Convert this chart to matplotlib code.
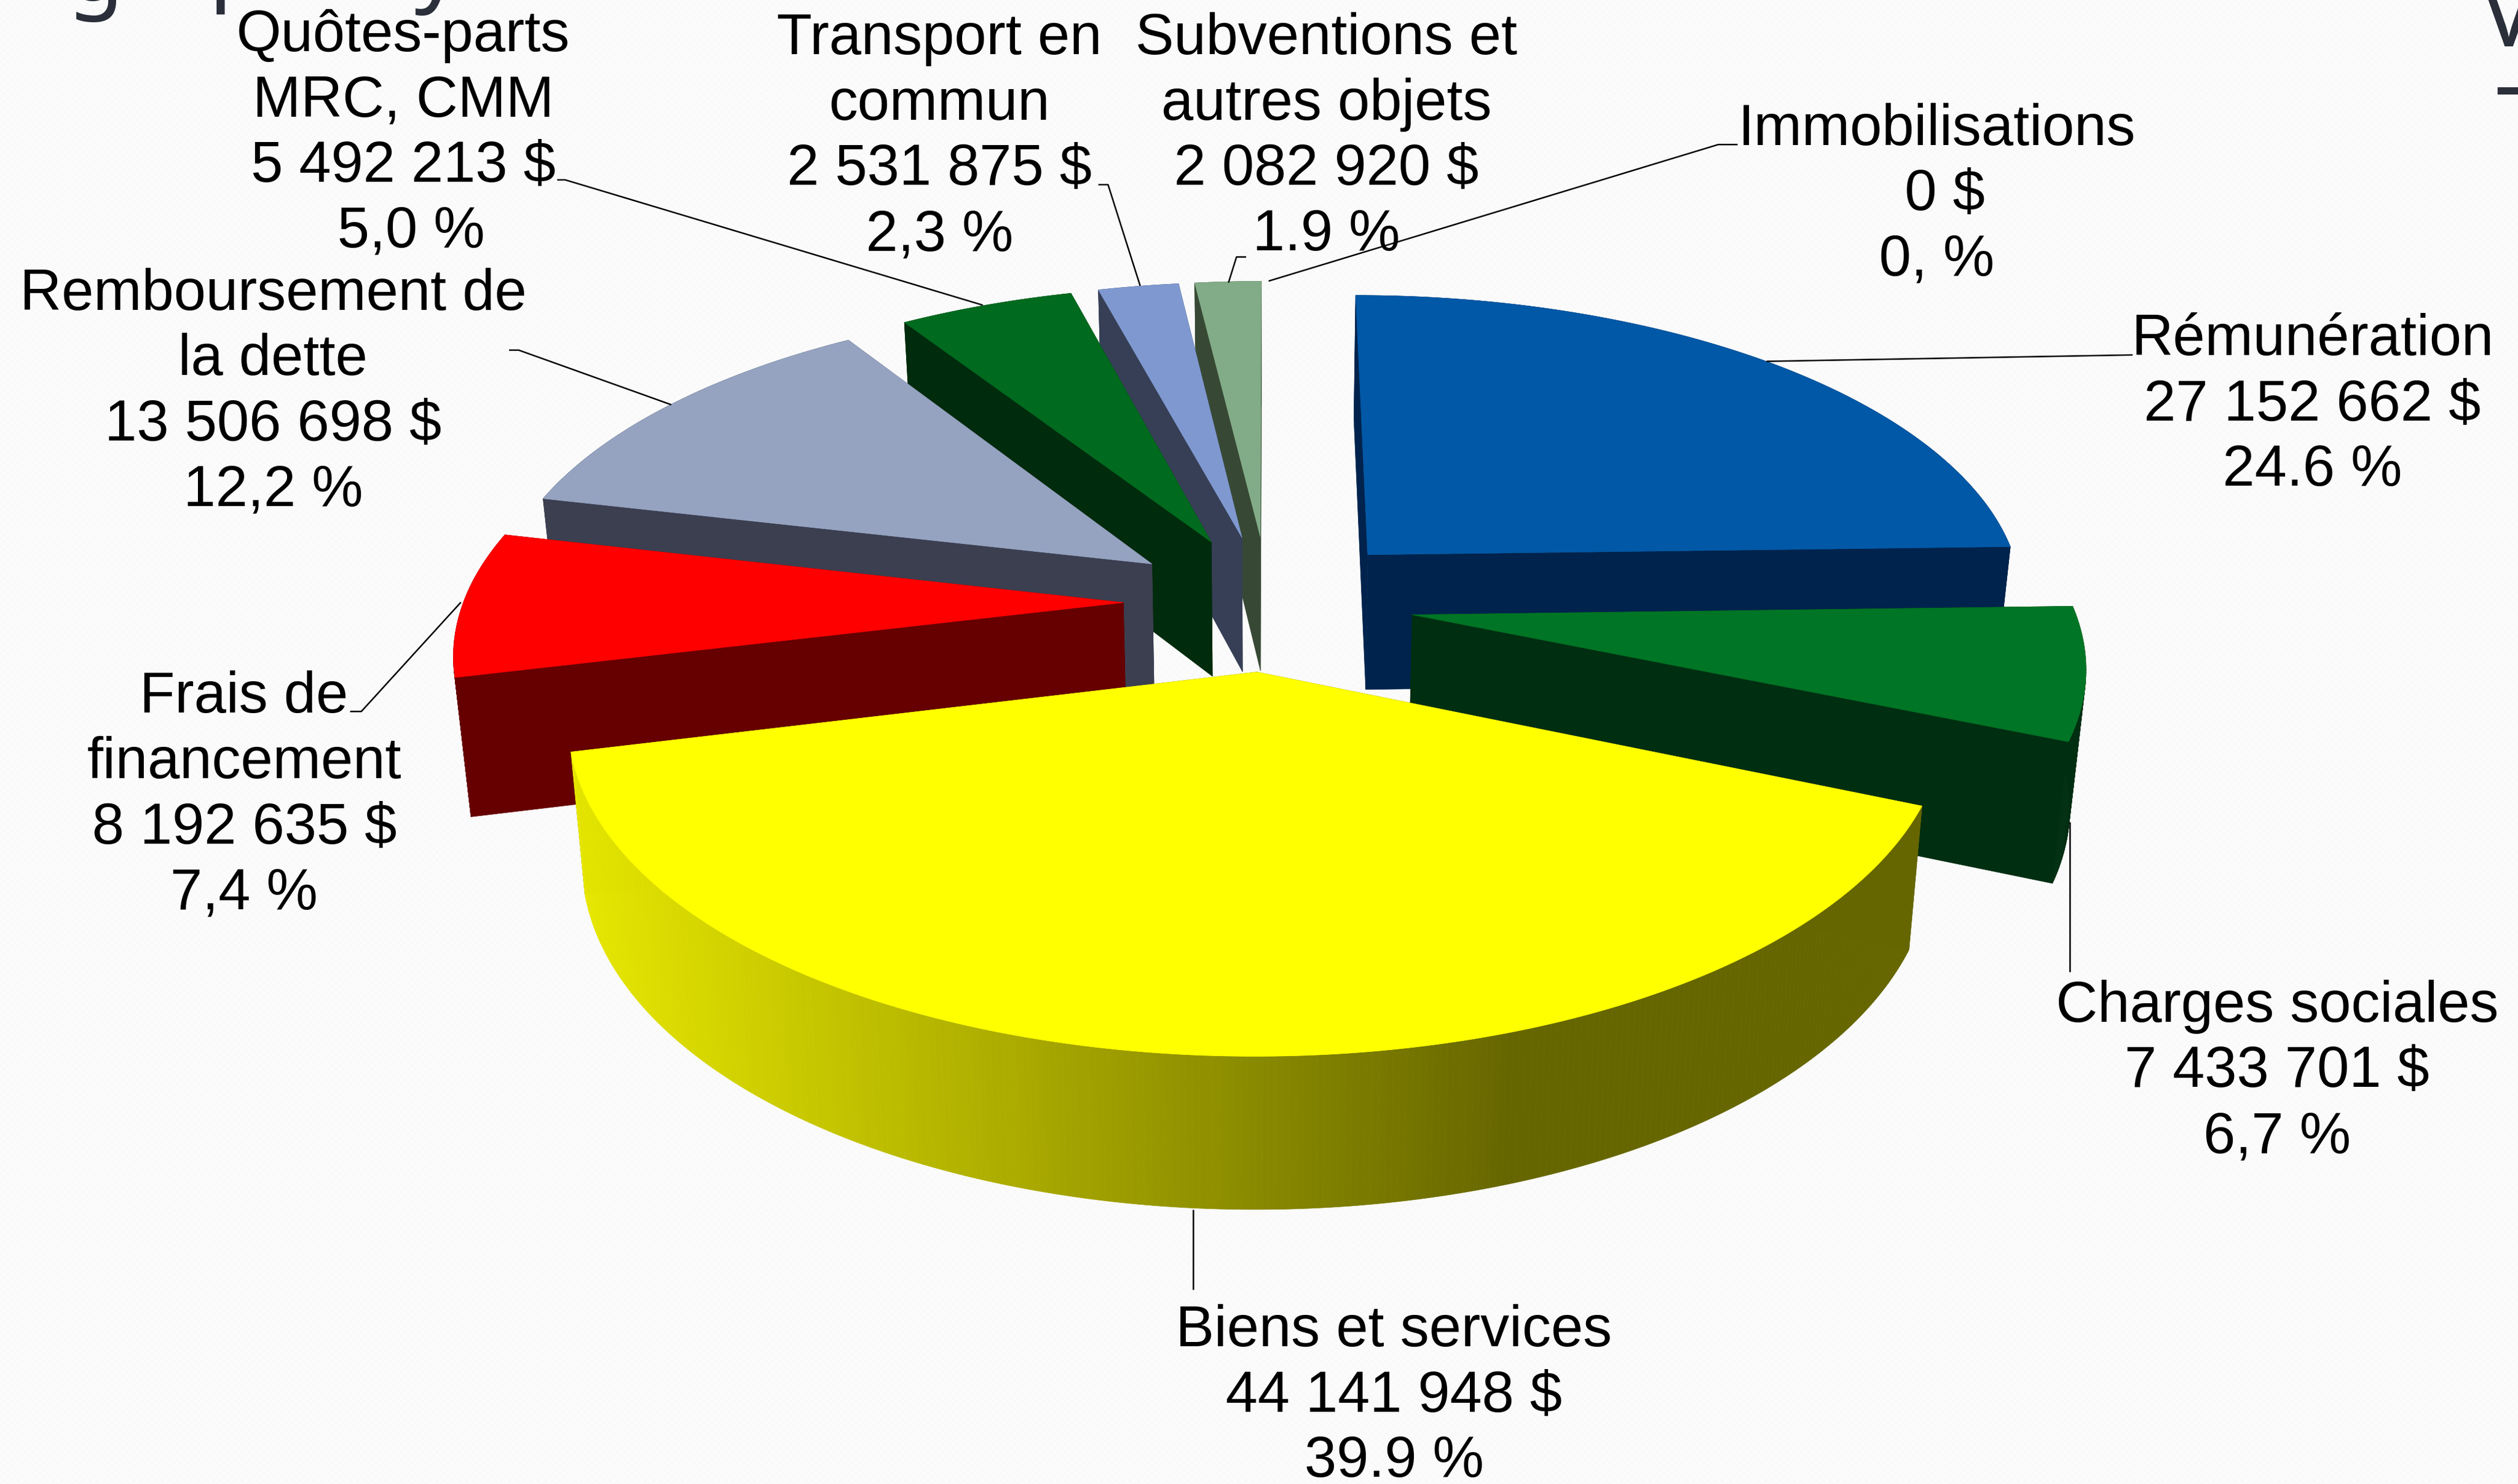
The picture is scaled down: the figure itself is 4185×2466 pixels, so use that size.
import numpy as np
import matplotlib
matplotlib.use("Agg")
import matplotlib.pyplot as plt

plt.rcParams['font.family'] = ['Liberation Sans', 'DejaVu Sans']

# --- donnees
categories = ["Rémunération", "Charges sociales", "Biens et services",
              "Frais de\nfinancement", "Remboursement de\nla dette",
              "Quôtes-parts\nMRC, CMM", "Transport en\ncommun",
              "Subventions et\nautres objets", "Immobilisations"]
values = [27152662, 7433701, 44141948, 8192635, 13506698, 5492213, 2531875, 2082920, 0]
percents = ["24.6 %", "6,7 %", "39.9 %", "7,4 %", "12,2 %", " 5,0 %", "2,3 %", "1.9 %", "0, %"]
top_colors = ["#0058A6", "#007525", "#FFFF00", "#FF0000", "#95A3C1",
              "#006A1E", "#7F99D0", "#82AC87", "#FFFFFF"]
wall_colors = ["#00234D", "#002E10", "#666600", "#660000", "#3B3F50",
               "#002B0C", "#363F56", "#374934", "#FFFFFF"]

# centre du bloc de texte pour chaque etiquette
label_pos = [(1440, 252.5), (1418, 667.5), (868, 869.5), (152, 495.5), (170, 244.5),
             (251, 83.5), (585, 85.5), (826, 85.5), (1206, 121.5)]

# traits de rappel
leaders = [([1328, 1100], [221, 225]),
           ([1289, 1289], [605, 512]),
           ([743, 743], [803, 753]),
           ([218, 225, 287], [443, 443, 375]),
           ([317, 323, 418], [218, 218, 252]),
           ([347, 352, 612], [112, 112, 190]),
           ([684, 690, 710], [115, 115, 178]),
           ([776, 770, 765], [160, 160, 176]),
           ([1082, 1070, 790], [90, 90, 175])]

# perspective de la tarte
CX, CY = 790, 375
RX, RY = 411, 192
PERSP = 0.141
EXPLODE = 0.22
DEPTH = 85
DRAW_ORDER = [7, 6, 5, 4, 3, 0, 1, 2]


def project(x, y):
    s = 1 / (1 + PERSP * y)
    return CX + RX * x * s, CY - RY * y * s, s


def top_pt(x, y):
    X, Y, _ = project(x, y)
    return X, Y


def bottom_pt(x, y):
    X, Y, s = project(x, y)
    return CX + (X - CX) * 0.98, Y + DEPTH + 50 * (s - 1)


def rim_color(x_screen):
    # seul le grand secteur a un degrade sur le rebord
    t = np.clip((x_screen - 356) / (940 - 356), 0, 1)
    r = 232 + (102 - 232) * t
    return (r / 255, r / 255, 0)


fig = plt.figure(figsize=(41.85, 24.66), dpi=100, facecolor="#FAFAFA")
ax = fig.add_axes([0, 0, 1, 1])

# fond de la diapo, petit motif tres pale
py, px = np.mgrid[0:2466, 0:4185]
texture = 250 + 1.5 * np.cos(2 * np.pi * px / 12) * np.cos(2 * np.pi * py / 12)
ax.imshow(texture, cmap='gray', vmin=0, vmax=255, extent=(0, 1568, 924, 0),
          aspect='auto', interpolation='nearest', zorder=0)

ax.set_xlim(0, 1568)
ax.set_ylim(924, 0)
ax.axis('off')

shares = np.array(values) / sum(values) * 360
starts = np.concatenate([[0], np.cumsum(shares)[:-1]])

for i in DRAW_ORDER:
    z = 1 + DRAW_ORDER.index(i)
    a0 = np.radians(starts[i])
    a1 = np.radians(starts[i] + shares[i])
    mid = (a0 + a1) / 2
    ox, oy = EXPLODE * np.sin(mid), EXPLODE * np.cos(mid)
    angles = np.linspace(a0, a1, max(3, int(shares[i] * 2)))
    xs = ox + np.sin(angles)
    ys = oy + np.cos(angles)

    # faces radiales
    for k in (0, -1):
        pts = [top_pt(ox, oy), top_pt(xs[k], ys[k]), bottom_pt(xs[k], ys[k]), bottom_pt(ox, oy)]
        ax.fill(*zip(*pts), color=wall_colors[i], lw=0.5, zorder=z)

    # rebord
    for k in range(len(angles) - 1):
        pts = [top_pt(xs[k], ys[k]), top_pt(xs[k + 1], ys[k + 1]),
               bottom_pt(xs[k + 1], ys[k + 1]), bottom_pt(xs[k], ys[k])]
        col = wall_colors[i]
        if i == 2:
            col = rim_color(np.mean([p[0] for p in pts]))
        ax.fill(*zip(*pts), color=col, lw=0.5, zorder=z)

    # dessus
    pts = [top_pt(ox, oy)] + [top_pt(x, y) for x, y in zip(xs, ys)]
    ax.fill(*zip(*pts), color=top_colors[i], lw=0.5, zorder=z)

for lx, ly in leaders:
    ax.plot(lx, ly, color="black", lw=1.8, zorder=20, solid_capstyle='butt')

for name, val, pct, (tx, ty) in zip(categories, values, percents, label_pos):
    val_txt = f"{val:,}".replace(",", " ") + " $"
    if val == 0:
        val_txt = " " + val_txt
    ax.text(tx, ty, f"{name}\n{val_txt}\n{pct}", ha='center', va='center',
            fontsize=69, color="black", linespacing=1.266, zorder=30)

# restes du titre coupe en haut de la diapo
title_col = "#2A2F3A"
for ch, tx, ty in [("g", 42, 0), ("p", 130, -5), ("y", 258, -4), ("V", 1545, 29), ("-", 1553, 72)]:
    ax.text(tx, ty, ch, ha='left', va='baseline', fontsize=110, color=title_col,
            family=['Noto Sans', 'DejaVu Sans'], fontweight='bold', zorder=30, clip_on=False)

fig.savefig("out.png", dpi=100, facecolor=fig.get_facecolor())
